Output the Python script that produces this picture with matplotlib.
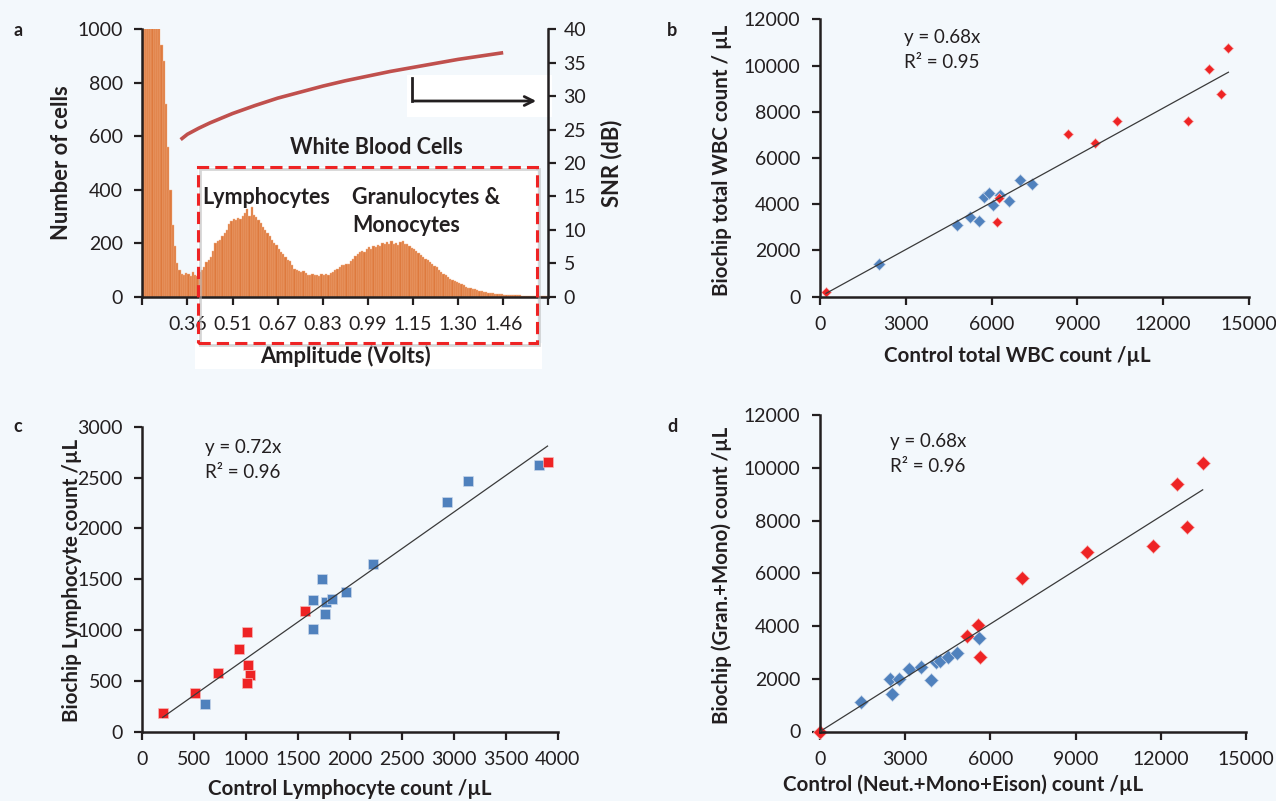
import numpy as np
import matplotlib.pyplot as plt
from matplotlib.patches import Rectangle, FancyArrowPatch
from matplotlib.lines import Line2D

plt.rcParams['font.family'] = ['Lato', 'DejaVu Sans']

W, H = 1276, 801
BG = '#F3F8FC'
INK = '#231F20'
BLUE = '#4F81BD'
RED = '#EE2324'


def fx(px):
    return px / W


def fy(py):
    return 1 - py / H


def box(l, t, r, b):
    return [fx(l), fy(b), (r - l) / W, (b - t) / H]


# --- panel a: amplitude histogram (180 bins, labels every 20 bins) ---
counts = [
    1400, 2100, 2600, 2400, 1900, 1500, 1200, 1050, 941, 880,
    720, 560, 400, 270, 190, 125, 100, 85, 80, 88,
    85, 78, 92, 82, 78, 94, 100, 112, 128, 138,
    150, 172, 200, 210, 212, 228, 240, 250, 272, 282,
    290, 288, 295, 292, 300, 312, 328, 300, 335, 305,
    298, 288, 275, 260, 250, 238, 226, 212, 200, 195,
    180, 168, 160, 150, 138, 132, 118, 104, 100, 96,
    92, 95, 88, 82, 80, 84, 80, 82, 78, 84,
    80, 86, 82, 88, 92, 98, 104, 110, 118, 120,
    124, 122, 132, 142, 152, 160, 168, 172, 166, 178,
    185, 180, 190, 186, 194, 190, 200, 196, 204, 198,
    208, 196, 200, 192, 204, 208, 196, 198, 188, 182,
    178, 172, 162, 156, 150, 140, 136, 130, 122, 116,
    110, 100, 92, 86, 80, 72, 68, 62, 58, 55,
    50, 46, 42, 38, 34, 32, 29, 27, 24, 22,
    20, 18, 16, 14, 13, 12, 11, 10, 10, 9,
    8, 7, 7, 6, 6, 5, 5, 5, 4, 4,
    4, 3, 3, 3, 3, 2, 2, 2, 2, 1,
]
amp_labels = ['', '0.36', '0.51', '0.67', '0.83', '0.99', '1.15', '1.30', '1.46', '']
snr_bin = [17, 20, 25, 30, 40, 50, 60, 70, 80, 90, 100, 110, 120, 130, 140, 150, 160]
snr_db = [23.5, 24.3, 25.2, 26.0, 27.4, 28.6, 29.7, 30.6, 31.5, 32.3, 33.0, 33.7,
          34.3, 34.9, 35.5, 36.0, 36.5]

# --- panel b: total WBC ---
b_blue_x = [2063, 4780, 5245, 5570, 5735, 5920, 6060, 6290, 6620, 6990, 7420]
b_blue_y = [1415, 3100, 3465, 3280, 4300, 4475, 3970, 4400, 4140, 5050, 4880]
b_red_x = [210, 6180, 6270, 8680, 9600, 10370, 12860, 14280, 13590, 14020]
b_red_y = [190, 3220, 4290, 7030, 6670, 7610, 7610, 10780, 9870, 8760]
b_slope, b_r2 = 0.68, 0.95

# --- panel c: lymphocytes ---
c_blue_x = [601, 1641, 1647, 1728, 1770, 1760, 1827, 1960, 2220, 2933, 3141, 3819]
c_blue_y = [273, 1298, 1015, 1504, 1271, 1160, 1304, 1370, 1652, 2256, 2463, 2624]
c_red_x = [196, 508, 726, 932, 1006, 1021, 1037, 1006, 1567, 3902]
c_red_y = [187, 384, 581, 812, 982, 657, 559, 477, 1192, 2650]
c_slope, c_r2 = 0.72, 0.96

# --- panel d: granulocytes + monocytes ---
d_blue_x = [1430, 2465, 2535, 2790, 3135, 3555, 3910, 4085, 4225, 4520, 4815, 5610]
d_blue_y = [1130, 1980, 1425, 1980, 2385, 2435, 1955, 2650, 2675, 2840, 2970, 3540]
d_red_x = [0, 13475, 12560, 12930, 11735, 9390, 7100, 5575, 5185, 5635]
d_red_y = [0, 10180, 9380, 7750, 7040, 6790, 5815, 4040, 3625, 2815]
d_slope, d_r2 = 0.68, 0.96

TICK = 14
LABEL = 14.8
LABEL_A = 15.8
NOTE = 15.5

fig = plt.figure(figsize=(W / 100, H / 100), dpi=100, facecolor=BG)


def style(ax, sides=('left', 'bottom')):
    ax.set_facecolor('none')
    for s in ax.spines:
        ax.spines[s].set_visible(s in sides)
        ax.spines[s].set_linewidth(1.8)
        ax.spines[s].set_color(INK)
    ax.tick_params(direction='out', length=6, width=1.6, color=INK,
                   labelsize=TICK, labelcolor=INK, pad=8)


def white_patch(l, t, r, b):
    fig.add_artist(Rectangle((fx(l), fy(b)), (r - l) / W, (b - t) / H,
                             transform=fig.transFigure, facecolor='white',
                             edgecolor='none', zorder=-1))


# white backing behind the highlighted region and arrow
white_patch(197.7, 166.7, 537.3, 343)
white_patch(195, 343, 542, 369)
white_patch(407, 75, 552, 117)

# panel a
ax = fig.add_axes(box(142.3, 29.3, 548.3, 296.7))
style(ax)
idx = np.arange(len(counts))
ax.bar(idx + 0.5, counts, width=1.0, color='#DE7A3E', edgecolor='#F5B58C', linewidth=0.3)
ax.set_xlim(0, len(counts))
ax.set_ylim(0, 1000)
ax.set_xticks(np.arange(0, len(counts) + 1, 20))
ax.set_xticklabels(amp_labels)
ax.set_yticks(np.arange(0, 1001, 200))

ax2 = ax.twinx()
style(ax2, sides=('right',))
ax2.plot(snr_bin, snr_db, color='#C0504D', lw=2.6, solid_capstyle='butt')
ax2.set_ylim(0, 40)
ax2.set_yticks(np.arange(0, 41, 5))
ax2.tick_params(axis='y', pad=5)

# shadowed dashed frame around the white-cell peaks
fig.add_artist(Rectangle((fx(199.7), fy(345)), (537.3 - 197.7) / W, (343 - 166.7) / H,
                         transform=fig.transFigure, fill=False, edgecolor='#BBBBBB',
                         lw=2, alpha=0.6, zorder=4))
fig.add_artist(Rectangle((fx(197.7), fy(343)), (537.3 - 197.7) / W, (343 - 166.7) / H,
                         transform=fig.transFigure, fill=False, edgecolor=RED,
                         lw=2.2, ls=(0, (4, 2)), zorder=5))

# arrow pointing to the SNR axis
fig.add_artist(Line2D([fx(412), fx(412)], [fy(78), fy(101)], transform=fig.transFigure,
                      color=INK, lw=2, zorder=6))
fig.add_artist(FancyArrowPatch((fx(411.3), fy(101)), (fx(539), fy(101)),
                               transform=fig.transFigure, arrowstyle='->',
                               mutation_scale=16, color=INK, lw=2, zorder=6))

fig.text(fx(376), fy(148), 'White Blood Cells', ha='center', va='center',
         fontsize=NOTE, fontweight='bold', color=INK)
fig.text(fx(202), fy(197), 'Lymphocytes', ha='left', va='center',
         fontsize=NOTE, fontweight='bold', color=INK)
fig.text(fx(352), fy(197), 'Granulocytes &', ha='left', va='center',
         fontsize=NOTE, fontweight='bold', color=INK)
fig.text(fx(352), fy(226), 'Monocytes', ha='left', va='center',
         fontsize=NOTE, fontweight='bold', color=INK)

fig.text(fx(62), fy(163), 'Number of cells', rotation=90, ha='center', va='center',
         fontsize=LABEL_A, fontweight='bold', color=INK)
fig.text(fx(612), fy(163), 'SNR (dB)', rotation=90, ha='center', va='center',
         fontsize=LABEL_A, fontweight='bold', color=INK)
fig.text(fx(345), fy(356), 'Amplitude (Volts)', ha='center', va='center',
         fontsize=LABEL_A, fontweight='bold', color=INK)


def scatter_panel(rect, bx, by, rx, ry, slope, r2, marker, ms_b, ms_r,
                  xmax, xstep, ymax, ystep, eq_xy, xlabel, ylabel, xl_xy, yl_xy):
    a = fig.add_axes(rect)
    style(a)
    allx = np.array(bx + rx, dtype=float)
    xs = np.array([allx.min(), allx.max()])
    a.plot(xs, slope * xs, color='#3A3A3A', lw=0.9, zorder=3)
    a.plot(bx, by, marker, color=BLUE, ms=ms_b, mec='#C9D7EA', mew=0.5,
           ls='none', zorder=2, clip_on=False)
    a.plot(rx, ry, marker, color=RED, ms=ms_r, mec='#F6B9B9', mew=0.5,
           ls='none', zorder=2, clip_on=False)
    a.set_xlim(0, xmax)
    a.set_ylim(0, ymax)
    a.set_xticks(np.arange(0, xmax + 1, xstep))
    a.set_yticks(np.arange(0, ymax + 1, ystep))
    fig.text(fx(eq_xy[0]), fy(eq_xy[1]), f'y = {slope:.2f}x', ha='left', va='center',
             fontsize=13.5, color=INK)
    fig.text(fx(eq_xy[0]), fy(eq_xy[1] + 25), f'R\u00b2 = {r2:.2f}', ha='left',
             va='center', fontsize=13.5, color=INK)
    fig.text(fx(xl_xy[0]), fy(xl_xy[1]), xlabel, ha='center', va='center',
             fontsize=LABEL, fontweight='bold', color=INK)
    fig.text(fx(yl_xy[0]), fy(yl_xy[1]), ylabel, rotation=90, ha='center', va='center',
             fontsize=LABEL, fontweight='bold', color=INK)
    return a


scatter_panel(box(820, 19.3, 1249, 296.7), b_blue_x, b_blue_y, b_red_x, b_red_y,
              b_slope, b_r2, 'D', 6.5, 5.4, 15000, 3000, 12000, 2000, (904, 38),
              'Control total WBC count /\u00b5L', 'Biochip total WBC count / \u00b5L',
              (1017, 356), (722, 160))
scatter_panel(box(142.3, 426.7, 557.7, 731.7), c_blue_x, c_blue_y, c_red_x, c_red_y,
              c_slope, c_r2, 's', 7.2, 7.2, 4000, 500, 3000, 500, (205, 448),
              'Control Lymphocyte count /\u00b5L', 'Biochip Lymphocyte count /\u00b5L',
              (350, 789), (72, 580))
scatter_panel(box(820, 415, 1246, 731.5), d_blue_x, d_blue_y, d_red_x, d_red_y,
              d_slope, d_r2, 'D', 7.6, 7.6, 15000, 3000, 12000, 2000, (890, 441),
              'Control (Neut.+Mono+Eison) count /\u00b5L',
              'Biochip (Gran.+Mono) count /\u00b5L', (963, 785), (722, 575))

for letter, (px, py) in {'a': (18, 31), 'b': (672, 31), 'c': (18, 426), 'd': (672, 426)}.items():
    fig.text(fx(px), fy(py), letter, ha='center', va='center', fontsize=13,
             fontweight='bold', color=INK)

fig.savefig('out.png', dpi=100, facecolor=BG)
